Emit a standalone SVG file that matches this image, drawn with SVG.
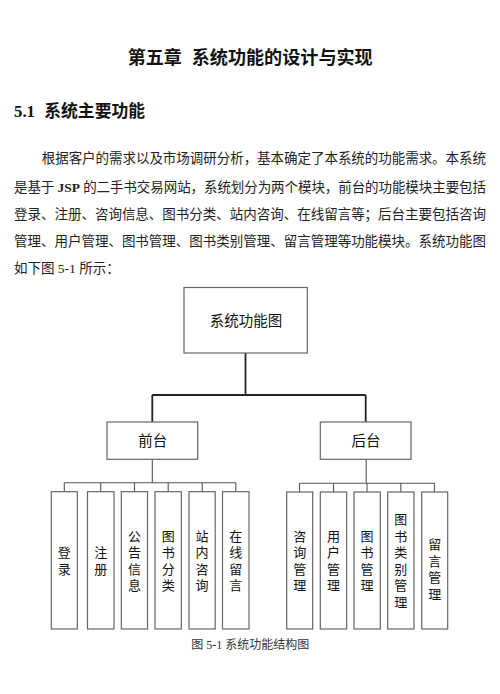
<svg xmlns="http://www.w3.org/2000/svg" width="500" height="694" viewBox="0 0 500 694">
<style>
.title{font-family:"Liberation Sans","Noto Sans CJK SC",sans-serif;font-weight:bold;font-size:18px;fill:#111}
.head{font-family:"Liberation Sans","Noto Sans CJK SC",sans-serif;font-weight:bold;font-size:16.8px;fill:#111}
.headnum{font-family:"Liberation Serif","Noto Sans CJK SC",serif;font-weight:bold}
.para{font-family:"Liberation Serif","Noto Sans CJK SC",serif;font-size:13.5px;fill:#222}
.cap{font-family:"Liberation Serif","Noto Sans CJK SC",serif;font-size:12px;fill:#333;text-anchor:middle}
.box{fill:#fff;stroke:#666;stroke-width:1.2}
.lbl{font-family:"Liberation Sans","Noto Sans CJK SC",sans-serif;font-size:14.5px;fill:#111;text-anchor:middle}
.vl{font-family:"Liberation Sans","Noto Sans CJK SC",sans-serif;font-size:13px;fill:#111;text-anchor:middle}
.thick{fill:none;stroke:#222;stroke-width:1.8}
.thin{fill:none;stroke:#555;stroke-width:1.1}
</style>
<rect width="500" height="694" fill="#fff"/>
<text class="title" x="127.7" y="64">第五章</text>
<text class="title" x="191.7" y="64" textLength="181" lengthAdjust="spacingAndGlyphs">系统功能的设计与实现</text>
<text class="head" x="14" y="117.4"><tspan class="headnum">5.1</tspan><tspan x="44.3">系统主要功能</tspan></text>
<text class="para" x="41.7" y="163.4" textLength="444.3" lengthAdjust="spacing">根据客户的需求以及市场调研分析，基本确定了本系统的功能需求。本系统</text>
<text class="para" x="14" y="191.8" textLength="472" lengthAdjust="spacing">是基于 <tspan font-weight="bold">JSP</tspan> 的二手书交易网站，系统划分为两个模块，前台的功能模块主要包括</text>
<text class="para" x="14" y="219.1" textLength="472" lengthAdjust="spacing">登录、注册、咨询信息、图书分类、站内咨询、在线留言等；后台主要包括咨询</text>
<text class="para" x="14" y="246.4" textLength="472" lengthAdjust="spacing">管理、用户管理、图书管理、图书类别管理、留言管理等功能模块。系统功能图</text>
<text class="para" x="14" y="272.8">如下图 5-1 所示：</text>
<g id="connectors">
<path class="thick" d="M245.5,353 V395 M152.3,395 H365.7 M152.3,395 V422 M365.7,395 V422"/>
<path class="thin" d="M152.3,459.3 V482.7 M64.3,482.7 H236 M64.3,482.7 V491.7 M100.7,482.7 V491.7 M134.5,482.7 V491.7 M168.2,482.7 V491.7 M202.2,482.7 V491.7 M235.8,482.7 V491.7"/>
<path class="thin" d="M366.2,459.3 V483.3 M299.5,483.3 H434.5 M299.5,483.3 V492 M333.5,483.3 V492 M367,483.3 V492 M400.8,483.3 V492 M434.5,483.3 V492"/>
</g>
<g id="root"><rect class="box" x="184" y="287.5" width="123.3" height="65.5"/><text class="lbl" x="246" y="326">系统功能图</text></g>
<g id="front"><rect class="box" x="107" y="422" width="90.7" height="37.3"/><text class="lbl" x="152.8" y="446.3">前台</text></g>
<g id="back"><rect class="box" x="320.3" y="422" width="90.7" height="37.3"/><text class="lbl" x="366" y="446.3">后台</text></g>
<g id="n-login"><rect class="box" x="51.3" y="491.7" width="26" height="137.3"/><text class="vl"><tspan x="64.3" y="557.2">登</tspan><tspan x="64.3" dy="16.6">录</tspan></text></g>
<g id="n-register"><rect class="box" x="87.5" y="491.7" width="26.5" height="137.3"/><text class="vl"><tspan x="100.7" y="557.2">注</tspan><tspan x="100.7" dy="16.6">册</tspan></text></g>
<g id="n-notice"><rect class="box" x="121.3" y="491.7" width="26.2" height="137.3"/><text class="vl"><tspan x="134.4" y="540.6">公</tspan><tspan x="134.4" dy="16.6">告</tspan><tspan x="134.4" dy="16.6">信</tspan><tspan x="134.4" dy="16.6">息</tspan></text></g>
<g id="n-category"><rect class="box" x="155" y="491.7" width="26.3" height="137.3"/><text class="vl"><tspan x="168.2" y="540.6">图</tspan><tspan x="168.2" dy="16.6">书</tspan><tspan x="168.2" dy="16.6">分</tspan><tspan x="168.2" dy="16.6">类</tspan></text></g>
<g id="n-consult"><rect class="box" x="189" y="491.7" width="26.2" height="137.3"/><text class="vl"><tspan x="202.1" y="540.6">站</tspan><tspan x="202.1" dy="16.6">内</tspan><tspan x="202.1" dy="16.6">咨</tspan><tspan x="202.1" dy="16.6">询</tspan></text></g>
<g id="n-message"><rect class="box" x="222.5" y="491.7" width="26.5" height="137.3"/><text class="vl"><tspan x="235.8" y="540.6">在</tspan><tspan x="235.8" dy="16.6">线</tspan><tspan x="235.8" dy="16.6">留</tspan><tspan x="235.8" dy="16.6">言</tspan></text></g>
<g id="n-consult-mgmt"><rect class="box" x="286.7" y="492" width="26" height="137"/><text class="vl"><tspan x="299.7" y="540.6">咨</tspan><tspan x="299.7" dy="16.6">询</tspan><tspan x="299.7" dy="16.6">管</tspan><tspan x="299.7" dy="16.6">理</tspan></text></g>
<g id="n-user-mgmt"><rect class="box" x="320.3" y="492" width="26.4" height="137"/><text class="vl"><tspan x="333.5" y="540.6">用</tspan><tspan x="333.5" dy="16.6">户</tspan><tspan x="333.5" dy="16.6">管</tspan><tspan x="333.5" dy="16.6">理</tspan></text></g>
<g id="n-book-mgmt"><rect class="box" x="354" y="492" width="26.3" height="137"/><text class="vl"><tspan x="367.1" y="540.6">图</tspan><tspan x="367.1" dy="16.6">书</tspan><tspan x="367.1" dy="16.6">管</tspan><tspan x="367.1" dy="16.6">理</tspan></text></g>
<g id="n-type-mgmt"><rect class="box" x="387.7" y="492" width="26.3" height="137"/><text class="vl"><tspan x="400.8" y="524">图</tspan><tspan x="400.8" dy="16.6">书</tspan><tspan x="400.8" dy="16.6">类</tspan><tspan x="400.8" dy="16.6">别</tspan><tspan x="400.8" dy="16.6">管</tspan><tspan x="400.8" dy="16.6">理</tspan></text></g>
<g id="n-msg-mgmt"><rect class="box" x="421.7" y="492" width="26" height="137"/><text class="vl"><tspan x="434.7" y="549">留</tspan><tspan x="434.7" dy="16.6">言</tspan><tspan x="434.7" dy="16.6">管</tspan><tspan x="434.7" dy="16.6">理</tspan></text></g>
<text class="cap" x="250.3" y="649.3">图 5-1 系统功能结构图</text>
</svg>
